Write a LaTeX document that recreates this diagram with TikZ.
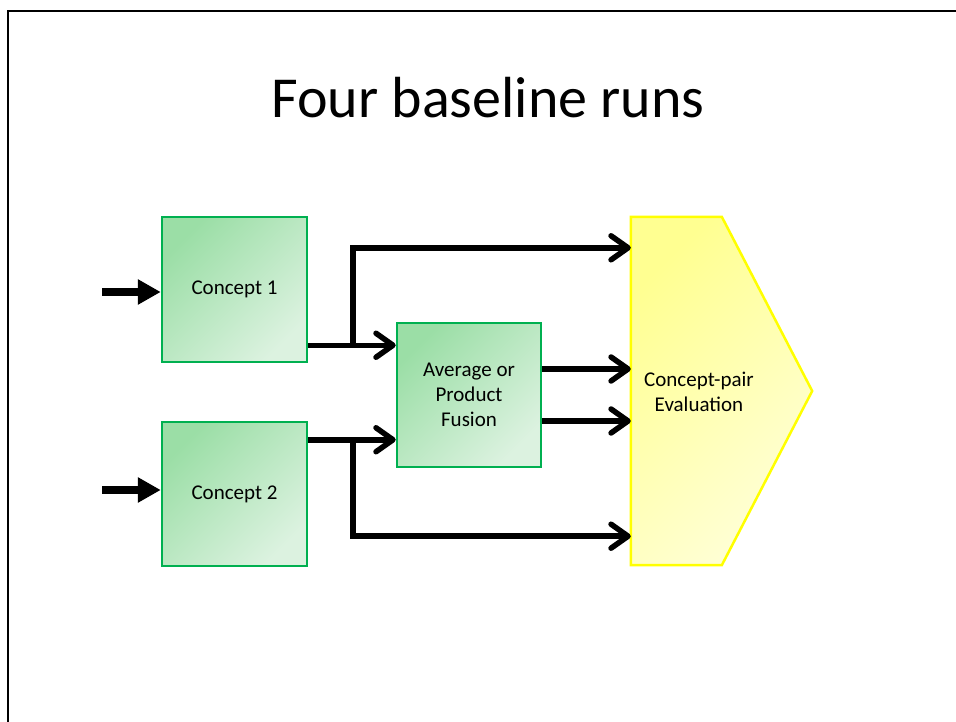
\documentclass[tikz,border=0pt]{standalone}
\usepackage{fontspec}
\setmainfont{Carlito}
\usetikzlibrary{arrows.meta,calc}
\definecolor{gborder}{RGB}{0,176,80}
\definecolor{gdark}{RGB}{155,222,166}
\definecolor{glight}{RGB}{220,242,224}
\definecolor{ydark}{RGB}{255,255,145}
\definecolor{ylight}{RGB}{255,255,215}
\definecolor{yborder}{RGB}{255,255,0}
\begin{document}
\begin{tikzpicture}[x=1pt,y=-1pt,
  gbox/.style={draw=gborder, line width=2.5pt, shade, top color=gdark, bottom color=glight, shading angle=45,
    minimum width=145pt, minimum height=145pt, inner sep=0pt, align=center,
    font=\fontsize{21}{25}\selectfont},
  txt/.style={align=center, inner sep=0pt, font=\fontsize{21}{25}\selectfont},
  conn/.style={line width=5.5pt, -{Straight Barb[length=17pt,width=24pt,round]}},
  inarr/.style={line width=7.5pt, -{Triangle[length=23pt,width=24pt]}}]
\useasboundingbox (0,0) rectangle (956,722);
\fill[white] (0,0) rectangle (956,722);
% frame
\draw[line width=2.5pt] (8,722) -- (8,11) -- (956,11);
% title
\node[anchor=base, inner sep=0pt, font=\fontsize{58}{64}\selectfont] (title) at (488,118) {Four baseline runs};
% boxes
\node[gbox] (c1) at (234.5,289.5) {Concept 1};
\node[gbox, minimum height=144pt] (c2) at (234.5,494) {Concept 2};
\node[gbox, minimum width=144pt, minimum height=144pt] (fus) at (469,395) {Average or\\Product\\Fusion};
% evaluation pentagon
\node[inner sep=0pt, minimum width=181pt, minimum height=348pt] (eval) at (721.5,391) {};
\path[draw=yborder, line width=2.5pt, shade, top color=ydark, bottom color=ylight, shading angle=45, line join=miter]
  (eval.north west) -- ($(eval.north west)+(91,0)$) -- (eval.east) -- ($(eval.south west)+(91,0)$) -- (eval.south west) -- cycle;
\node[txt] (evaltext) at (699,392) {Concept-pair\\Evaluation};
% inputs
\coordinate (in1) at (102,292);
\coordinate (in2) at (102,490);
\draw[inarr] (in1) -- (c1.west |- in1);
\draw[inarr] (in2) -- (c2.west |- in2);
% concept 1 outputs
\coordinate (o1) at ($(c1.south east)+(0,-18)$);
\coordinate (j1) at (353,0 |- o1);
\draw[conn] (o1) -- (fus.west |- o1);
\draw[conn, line join=miter] (j1) |- ($(eval.north west)+(0,31)$);
% concept 2 outputs
\coordinate (o2) at ($(c2.north east)+(0,19)$);
\coordinate (j2) at (353,0 |- o2);
\draw[conn] (o2) -- (fus.west |- o2);
\draw[conn, line join=miter] (j2) |- ($(eval.south west)+(0,-29)$);
% fusion outputs
\draw[conn] ($(fus.east)+(0,-26)$) -- ($(eval.west |- fus.east)+(0,-26)$);
\draw[conn] ($(fus.east)+(0,26)$) -- ($(eval.west |- fus.east)+(0,26)$);
\end{tikzpicture}
\end{document}
